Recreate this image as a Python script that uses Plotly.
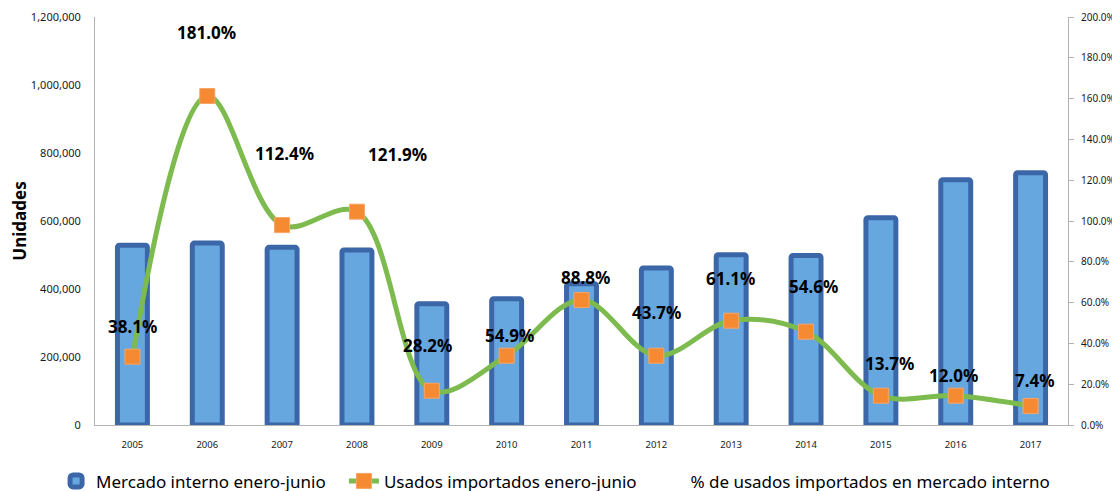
import plotly.graph_objects as go

years = ["2005", "2006", "2007", "2008", "2009", "2010", "2011", "2012", "2013", "2014", "2015", "2016", "2017"]
mercado_interno = [529000, 535000, 522600, 514700, 356800, 371500, 415600, 461800, 500600, 498800, 609700, 721500, 742000]
usados_importados = [200900, 967600, 588000, 627400, 100900, 203800, 367600, 203800, 306800, 274400, 86200, 86200, 55900]
pct_usados = [38.1, 181.0, 112.4, 121.9, 28.2, 54.9, 88.8, 43.7, 61.1, 54.6, 13.7, 12.0, 7.4]

# label placement offsets (px) relative to the % point
label_dx = [0, -1, 2, 41, -4, 3, 4, 0, -1, 7, 9, -2, 4]
label_dy = [21, 23, 42, 22, 22, -22, -34, 23, 22, 27, 34, 25, 29]

FONT = "Noto Sans"
PAD = "\u00a0"

fig = go.Figure()
fig.add_trace(go.Bar(
    x=years, y=mercado_interno, name="Mercado interno enero-junio" + PAD * 3,
    marker=dict(color="#66A7DF", line=dict(color="#3B67A8", width=5)),
    yaxis="y",
))
fig.add_trace(go.Scatter(
    x=years, y=usados_importados, name="Usados importados enero-junio" + PAD * 2,
    mode="lines+markers",
    line=dict(color="#7DBB4F", width=5, shape="spline", smoothing=1.0),
    marker=dict(symbol="square", size=15, color="#F68A33", line=dict(color="#F7A566", width=1)),
    yaxis="y",
))
fig.add_trace(go.Scatter(
    x=years, y=pct_usados, name="% de usados importados en mercado interno",
    mode="lines", line=dict(color="rgba(0,0,0,0)", width=0),
    yaxis="y2",
))

for i, (p, dx, dy) in enumerate(zip(pct_usados, label_dx, label_dy)):
    fig.add_annotation(
        x=i, y=p, xref="x", yref="y2", text=f"<b>{p:.1f}%</b>",
        showarrow=False, xshift=dx, yshift=dy,
        font=dict(family=FONT, size=17, color="#000000"),
    )

fig.update_layout(
    width=1120, height=491,
    margin=dict(l=87, r=60, t=9, b=74, autoexpand=False),
    paper_bgcolor="white", plot_bgcolor="white",
    font=dict(family=FONT, color="#1a1a1a"),
    bargap=0.6,
    barcornerradius=2,
    showlegend=True,
    legend=dict(
        orientation="h", x=-0.040, xanchor="left", y=-0.094, yanchor="top",
        font=dict(family=FONT, size=17, color="#000000"),
        entrywidth=0, itemwidth=30,
        bgcolor="rgba(0,0,0,0)",
    ),
    xaxis=dict(
        type="category", range=[-0.5, 12.5], automargin=False,
        showline=True, linecolor="#B3B3B3", linewidth=1,
        ticks="", tickfont=dict(family=FONT, size=9.5, color="#1a1a1a"),
        ticklabelstandoff=11, showgrid=False, zeroline=False,
    ),
    yaxis=dict(
        range=[0, 1200000], dtick=200000, tickformat=",d", automargin=False,
        showline=True, linecolor="#B3B3B3", linewidth=1,
        ticks="", tickfont=dict(family=FONT, size=11, color="#1a1a1a"),
        ticklabelstandoff=11, showgrid=False, zeroline=False,
        title=dict(text="<b>Unidades</b>", font=dict(family=FONT, size=17, color="#000000"), standoff=1),
    ),
    yaxis2=dict(
        range=[0, 200], dtick=20, tickformat=".1f", ticksuffix="%", automargin=False,
        overlaying="y", side="right", anchor="x",
        showline=True, linecolor="#B3B3B3", linewidth=1,
        ticks="outside", ticklen=5, tickcolor="#B3B3B3",
        tickfont=dict(family=FONT, size=10, color="#1a1a1a"),
        ticklabelstandoff=5, showgrid=False, zeroline=False,
    ),
)

fig.write_html("out.html")
